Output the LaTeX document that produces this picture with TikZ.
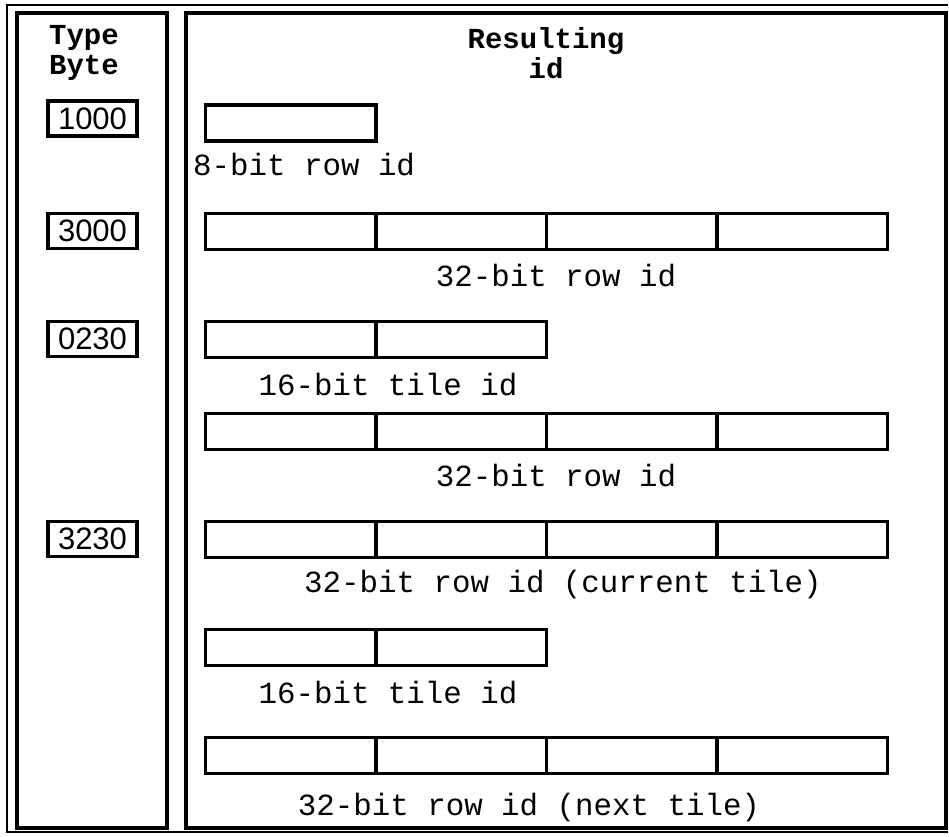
\documentclass[tikz,border=0pt]{standalone}
\usepackage{fontspec}
\newfontfamily\monof{Liberation Mono}
\newfontfamily\sansf{Liberation Sans}
\begin{document}
\begin{tikzpicture}[x=1pt,y=-1pt,
  panel/.style={draw, line width=3.8pt, inner sep=0pt},
  cell/.style={draw, line width=3.4pt, minimum width=170.5pt, minimum height=36pt, inner sep=0pt},
  typebox/.style={draw, line width=3.4pt, minimum width=89pt, minimum height=35pt, inner sep=0pt, font=\sansf\fontsize{31}{31}\selectfont},
  lbl/.style={font=\monof\fontsize{30.8}{31}\selectfont, inner sep=0pt},
  hdr/.style={font=\monof\bfseries\fontsize{29}{30}\selectfont, align=center, inner sep=0pt}]
\useasboundingbox (0,0) rectangle (949,836);
\fill[white] (0,0) rectangle (949,836);
% outer frame
\draw[line width=2.4pt] (948,5) -- (7,5) -- (7,832) -- (948,832);
% panels
\node[panel, minimum width=150pt, minimum height=815pt] (leftp) at (92,420.5) {};
\node[panel, minimum width=760pt, minimum height=815pt] (rightp) at (566,420.5) {};
% headers
\node[hdr] (th) at (84,53) {Type\\Byte};
\node[hdr] (rh) at (546,53) {Resulting\\id};
% type byte boxes
\node[typebox] (t1) at (92.5,118.5) {1000};
\node[typebox] (t2) at (92.5,231) {3000};
\node[typebox] (t3) at (92.5,339) {0230};
\node[typebox] (t4) at (92.5,539) {3230};
% row 1: 8-bit
\node[cell] (a1) at (290.75,123) {};
\node[lbl, anchor=west] (la) at (193,165) {8-bit row id};
% 32-bit rows
\foreach \i/\x in {1/290.75,2/461.25,3/631.75,4/802.25}{
  \node[cell] (b\i) at (\x,231.5) {};
  \node[cell] (d\i) at (\x,431.5) {};
  \node[cell] (e\i) at (\x,539.5) {};
  \node[cell] (g\i) at (\x,755.5) {};
}
% 16-bit rows
\foreach \i/\x in {1/290.75,2/461.25}{
  \node[cell] (c\i) at (\x,339.5) {};
  \node[cell] (f\i) at (\x,647.5) {};
}
\node[lbl] (lb) at (556,276) {32-bit row id};
\node[lbl] (lc) at (388,385) {16-bit tile id};
\node[lbl] (ld) at (556,476) {32-bit row id};
\node[lbl] (le) at (563,585) {32-bit row id (current tile)};
\node[lbl] (lf) at (388,693) {16-bit tile id};
\node[lbl] (lg) at (529,808) {32-bit row id (next tile)};
\end{tikzpicture}
\end{document}
